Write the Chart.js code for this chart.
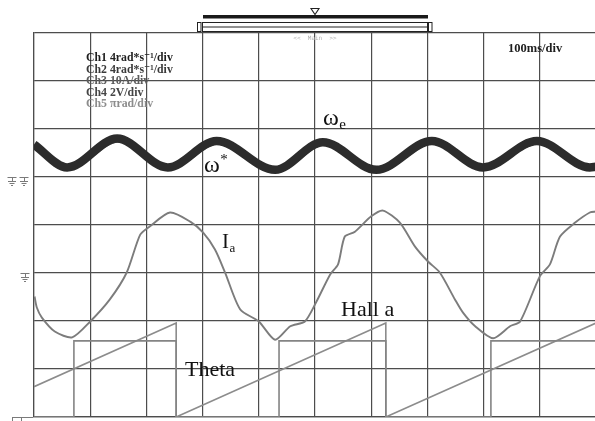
<!DOCTYPE html>
<html>
<head>
<meta charset="utf-8">
<script src="https://cdn.jsdelivr.net/npm/chart.js@4"></script>
<style>
  html, body { margin: 0; padding: 0; background: #fff; overflow: hidden; width: 595px; height: 421px; }
  #wrap { position: absolute; left: 0; top: 0; width: 600px; height: 421px; }
</style>
</head>
<body>
<div id="wrap"><canvas id="scope" width="600" height="421"></canvas></div>
<script>
// Time base: 100 ms/div over 10 divisions
const timeMin = 0;
const timeMax = 1000;
const timeStep = 100;

// Ch1: measured speed ω_e (rad/s), 4 rad/s per div
const omegaETime = [0, 59, 148, 238, 325, 429, 514, 609, 708, 799, 895, 989, 1000];
const omegaEVals = [2.7, 0.8, 3.2, 0.8, 3.0, 0.6, 2.9, 0.6, 3.0, 0.8, 3.0, 0.8, 0.85];

// Ch2: speed reference ω* (rad/s), 4 rad/s per div
const omegaRefTime = [0, 62, 152, 242, 330, 433, 518, 613, 712, 803, 899, 992, 1000];
const omegaRefVals = [2.5, 0.7, 2.95, 0.7, 2.8, 0.5, 2.7, 0.5, 2.8, 0.7, 2.8, 0.7, 0.75];

// Ch3: phase current Ia (A), 10 A per div
const iaTime = [1, 5, 14, 37, 68, 100, 135, 165, 189, 206, 242, 278, 301, 322, 340, 367, 400, 429,
                456, 482, 502, 527, 541, 553, 571, 600, 621, 651, 678, 701, 722, 749, 763, 785,
                817, 847, 865, 900, 918, 936, 963, 989, 1000];
const iaVals = [-4.9, -7.2, -9.3, -12.2, -13.4, -10.1, -5.5, 0.1, 8.0, 9.7, 12.6, 10.7, 8.4, 4.9, 0.1, -7.6, -10.1, -13.9,
                -11.1, -10.1, -6.1, -0.3, 1.8, 7.6, 8.6, 11.8, 13.0, 10.5, 5.5, 2.4, 0.1, -5.5, -8.2, -11.1,
                -13.6, -11.1, -10.1, -0.7, 1.8, 7.6, 10.5, 12.6, 12.8];

// Ch4: Hall sensor a (V), 2 V per div
const hallTime = [0, 71, 71, 253, 253, 436, 436, 626, 626, 813, 813, 1000];
const hallVals = [0, 0, 3.17, 3.17, 0, 0, 3.17, 3.17, 0, 0, 3.17, 3.17];

// Ch5: rotor angle Theta (rad), π rad per div
const thetaTime = [0, 253, 253, 626, 626, 1000];
const thetaVals = [1.98, 6.15, 0, 6.15, 0, 6.15];

// Channel scale settings: units per division and ground position (divisions from bottom)
const divisions = 8;
const omegaPerDiv = 4, omegaGroundDiv = 5;
const iaPerDiv = 10, iaGroundDiv = 3;
const hallPerDiv = 2, hallGroundDiv = 0;
const thetaPerDiv = Math.PI, thetaGroundDiv = 0;

const channelLegend = [
  { text: 'Ch1 4rad*s\u207B\u00B9/div', color: '#1e1e1e' },
  { text: 'Ch2 4rad*s\u207B\u00B9/div', color: '#3a3a3a' },
  { text: 'Ch3 10A/div', color: '#5c5c5c' },
  { text: 'Ch4 2V/div', color: '#454545' },
  { text: 'Ch5 \u03C0rad/div', color: '#8c8c8c' }
];
const timebaseLabel = '100ms/div';

const toPoints = (ts, vs) => ts.map((t, i) => ({ x: t, y: vs[i] }));
const axisRange = (perDiv, groundDiv) => ({ min: -groundDiv * perDiv, max: (divisions - groundDiv) * perDiv });

const SERIF = '"Liberation Serif", "DejaVu Serif", serif';

function groundMark(ctx, x, y) {
  ctx.beginPath();
  ctx.moveTo(x - 4.5, y + 0.5); ctx.lineTo(x + 4.5, y + 0.5);
  ctx.moveTo(x + 0.5, y); ctx.lineTo(x + 0.5, y + 4);
  ctx.moveTo(x - 4, y + 4.5); ctx.lineTo(x + 4, y + 4.5);
  ctx.moveTo(x - 2.5, y + 6.5); ctx.lineTo(x + 2.5, y + 6.5);
  ctx.moveTo(x - 1, y + 8.5); ctx.lineTo(x + 1, y + 8.5);
  ctx.stroke();
}

function subLabel(ctx, main, sub, x, y, size, supMode) {
  ctx.font = size + 'px ' + SERIF;
  ctx.fillText(main, x, y);
  const w = ctx.measureText(main).width;
  ctx.font = Math.round(size * 0.62) + 'px ' + SERIF;
  ctx.fillText(sub, x + w + 0.5, supMode ? y - size * 0.35 : y + size * 0.18);
}

const scopeOverlay = {
  id: 'scopeOverlay',
  afterDraw(chart) {
    const ctx = chart.ctx;
    const area = chart.chartArea;
    ctx.save();

    // record-position bar above the screen
    ctx.fillStyle = '#1a1a1a';
    ctx.fillRect(203, 15, 225, 3.5);
    ctx.strokeStyle = '#222';
    ctx.lineWidth = 1;
    ctx.strokeRect(202.5, 22.5, 225, 9);
    ctx.beginPath(); ctx.moveTo(202, 27); ctx.lineTo(428, 27); ctx.stroke();
    ctx.strokeRect(197.5, 22.5, 3.5, 9);
    ctx.strokeRect(428.5, 22.5, 3.5, 9);
    // trigger-position triangle
    const cx = (area.left + area.right) / 2;
    ctx.beginPath();
    ctx.moveTo(cx - 4, 8.5); ctx.lineTo(cx + 4, 8.5); ctx.lineTo(cx, 14.5); ctx.closePath();
    ctx.lineWidth = 1.1; ctx.stroke();
    ctx.fillStyle = '#b0b0b0';
    ctx.font = '6px "DejaVu Sans Mono", monospace';
    ctx.textAlign = 'center'; ctx.textBaseline = 'middle';
    ctx.fillText('<<  Main  >>', cx, 38.5);

    // channel ground markers on the left edge
    ctx.strokeStyle = '#7a7a7a';
    ctx.lineWidth = 1;
    const yW = chart.scales.yW.getPixelForValue(0);
    const yI = chart.scales.yI.getPixelForValue(0);
    const yB = chart.scales.yH.getPixelForValue(0);
    groundMark(ctx, 12, Math.round(yW));
    groundMark(ctx, 24, Math.round(yW));
    groundMark(ctx, 25, Math.round(yI));
    ctx.beginPath();
    ctx.moveTo(12, Math.round(yB) + 0.5); ctx.lineTo(33, Math.round(yB) + 0.5);
    ctx.moveTo(12.5, yB); ctx.lineTo(12.5, yB + 5);
    ctx.moveTo(21.5, yB); ctx.lineTo(21.5, yB + 5);
    ctx.stroke();

    // channel scale legend
    ctx.textAlign = 'left'; ctx.textBaseline = 'alphabetic';
    ctx.font = 'bold 11.8px ' + SERIF;
    const legendBase = [61, 72.5, 84, 95.5, 107];
    channelLegend.forEach((c, i) => {
      ctx.fillStyle = c.color;
      ctx.fillText(c.text, 86, legendBase[i]);
    });
    ctx.font = 'bold 12.5px ' + SERIF;
    ctx.fillStyle = '#1e1e1e';
    ctx.fillText(timebaseLabel, 508, 52);

    // trace names
    ctx.fillStyle = '#111';
    subLabel(ctx, '\u03C9', 'e', 323, 125, 24, false);
    subLabel(ctx, '\u03C9', '*', 204, 172, 24, true);
    subLabel(ctx, 'I', 'a', 222, 248, 21, false);
    ctx.font = '22px ' + SERIF;
    ctx.fillText('Hall a', 341, 316);
    ctx.fillText('Theta', 185, 376);

    ctx.restore();
  }
};

const gridStyle = { color: '#4d4d4d', lineWidth: 1.2, drawTicks: false, tickLength: 0 };

new Chart(document.getElementById('scope'), {
  type: 'line',
  data: {
    datasets: [
      {
        label: 'Hall a',
        data: toPoints(hallTime, hallVals),
        yAxisID: 'yH',
        borderColor: '#848484',
        borderWidth: 1.6,
        tension: 0
      },
      {
        label: 'Theta',
        data: toPoints(thetaTime, thetaVals),
        yAxisID: 'yT',
        borderColor: '#8c8c8c',
        borderWidth: 1.6,
        tension: 0
      },
      {
        label: 'Ia',
        data: toPoints(iaTime, iaVals),
        yAxisID: 'yI',
        borderColor: '#7c7c7c',
        borderWidth: 1.9,
        tension: 0.25
      },
      {
        label: '\u03C9e',
        data: toPoints(omegaETime, omegaEVals),
        yAxisID: 'yW',
        borderColor: '#2c2c2c',
        borderWidth: 8.5,
        cubicInterpolationMode: 'monotone'
      },
      {
        label: '\u03C9*',
        data: toPoints(omegaRefTime, omegaRefVals),
        yAxisID: 'yW',
        borderColor: '#6a6a6a',
        borderWidth: 1.6,
        cubicInterpolationMode: 'monotone'
      }
    ]
  },
  options: {
    responsive: false,
    animation: false,
    devicePixelRatio: 1,
    layout: { padding: { left: 34, top: 33, right: 4, bottom: 4 } },
    elements: { point: { radius: 0 } },
    plugins: { legend: { display: false }, tooltip: { enabled: false } },
    scales: {
      x: {
        type: 'linear', min: timeMin, max: timeMax,
        ticks: { stepSize: timeStep, display: false },
        grid: gridStyle,
        border: { color: '#4d4d4d', width: 1.2 }
      },
      yH: {
        type: 'linear', position: 'left',
        ...axisRange(hallPerDiv, hallGroundDiv),
        ticks: { stepSize: hallPerDiv, display: false },
        grid: gridStyle,
        border: { color: '#4d4d4d', width: 1.2 }
      },
      yT: { type: 'linear', display: false, ...axisRange(thetaPerDiv, thetaGroundDiv) },
      yI: { type: 'linear', display: false, ...axisRange(iaPerDiv, iaGroundDiv) },
      yW: { type: 'linear', display: false, ...axisRange(omegaPerDiv, omegaGroundDiv) }
    }
  },
  plugins: [scopeOverlay]
});
</script>
</body>
</html>
